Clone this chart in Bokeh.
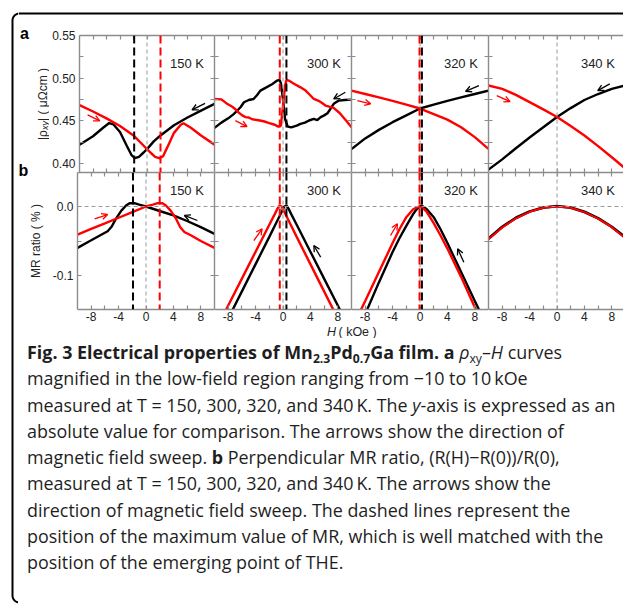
import numpy as np
from bokeh.plotting import figure
from bokeh.models import Range1d, LinearAxis, FixedTicker, Span, Label, Arrow, OpenHead, Div
from bokeh.layouts import row, column
from bokeh.embed import file_html
from bokeh.resources import INLINE

# ------------------------------------------------------------------ data
temperatures = ["150 K", "300 K", "320 K", "340 K"]

# (a) |rho_xy| (μΩcm) vs H (kOe); black: sweep +10 -> -10, red: sweep -10 -> +10
h_150a_black = [-10, -8, -6.5, -5.6, -5, -4, -3, -2.3, -1.8, -1.2, -0.5, 0, 1, 2, 4, 6, 8, 10]
r_150a_black = [0.422, 0.432, 0.442, 0.4475, 0.446, 0.437, 0.421, 0.410, 0.4065, 0.408, 0.413,
                0.417, 0.426, 0.433, 0.445, 0.454, 0.462, 0.470]
h_150a_red = [-10, -8, -6, -4, -2, -1, 0, 0.5, 1.2, 1.9, 2.4, 3, 4, 5, 5.4, 6.5, 8, 10]
r_150a_red = [0.4685, 0.461, 0.453, 0.444, 0.433, 0.425, 0.417, 0.413, 0.408, 0.4062, 0.409,
              0.419, 0.436, 0.4455, 0.4472, 0.442, 0.433, 0.4222]

h_300a_black = [-10, -9, -8, -7.2, -6.2, -5.7, -5, -4.3, -3.8, -3.3, -2.5, -1.6, -0.85, -0.5,
                -0.3, 0.0, 0.3, 0.7, 1.2, 2.0, 2.55, 3.2, 3.8, 4.5, 5.0, 5.5, 5.95, 6.5, 7.0,
                7.4, 8.15, 9.0, 10]
r_300a_black = [0.4418, 0.448, 0.453, 0.458, 0.466, 0.4718, 0.4745, 0.4757, 0.480, 0.4855,
                0.489, 0.493, 0.4972, 0.498, 0.494, 0.475, 0.452, 0.4433, 0.4425, 0.4445,
                0.4465, 0.448, 0.4505, 0.4523, 0.451, 0.4545, 0.4562, 0.459, 0.465, 0.470,
                0.4738, 0.4745, 0.475]
h_300a_red = [-10, -9, -8.15, -7.4, -7.0, -6.5, -5.95, -5.5, -5.0, -4.5, -3.8, -3.2, -2.55,
              -2.0, -1.2, -0.7, -0.3, 0.0, 0.3, 0.5, 0.85, 1.6, 2.55, 3.3, 3.8, 4.5, 5.2,
              5.7, 6.2, 7.4, 8.3, 9.2, 10]
r_300a_red = [0.4757, 0.4752, 0.470, 0.4665, 0.464, 0.460, 0.4565, 0.4545, 0.454, 0.452,
              0.451, 0.4502, 0.449, 0.4475, 0.4455, 0.4433, 0.4445, 0.468, 0.491, 0.498,
              0.4972, 0.4935, 0.4893, 0.4855, 0.4815, 0.4757, 0.4735, 0.471, 0.468, 0.4652,
              0.459, 0.4505, 0.4425]

h_320a = [-10, -8, -6, -4, -2, 0, 2, 4, 6, 8, 10]
r_320a_black = [0.417, 0.4295, 0.4395, 0.4485, 0.4565, 0.4645, 0.469, 0.4735, 0.4775, 0.4815, 0.4855]
r_320a_red = [0.4855, 0.4815, 0.4775, 0.4735, 0.469, 0.4645, 0.458, 0.4515, 0.4425, 0.431, 0.4172]

h_340a = [-10, -8, -6, -4, -2, 0, 2, 4, 6, 8, 10]
r_340a_black = [0.393, 0.405, 0.418, 0.4305, 0.4425, 0.4545, 0.465, 0.4745, 0.4815, 0.4875, 0.4915]
r_340a_red = [0.4915, 0.4875, 0.4805, 0.472, 0.4635, 0.4545, 0.444, 0.433, 0.4205, 0.4075, 0.394]

# (b) MR ratio (%) vs H (kOe)
h_150b_black = [-10, -8, -6, -5.6, -5, -4.4, -3.6, -2.9, -2.4, -1.7, -1, 0, 2, 4, 6, 8, 10]
m_150b_black = [-0.0599, -0.049, -0.038, -0.0358, -0.029, -0.018, -0.006, 0.0014, 0.0048,
                0.0048, 0.0028, 0.0, -0.0065, -0.013, -0.021, -0.030, -0.0396]
h_150b_red = [-10, -8, -6, -4, -2, 0, 1, 1.7, 2.4, 2.9, 3.6, 4.4, 5, 5.6, 6.6, 8, 10]
m_150b_red = [-0.0406, -0.0325, -0.0245, -0.0163, -0.0081, 0.0, 0.0028, 0.0048, 0.0048,
              0.0014, -0.006, -0.018, -0.030, -0.037, -0.042, -0.050, -0.0599]

h_300b_black = [-10, -8, -6, -4, -2, -1, -0.2, 0.2, 0.5, 0.8, 1.2, 2, 4, 6, 8, 10]
m_300b_black = [-0.202, -0.1625, -0.123, -0.0835, -0.044, -0.024, -0.008, 0.0, 0.0015,
                -0.003, -0.011, -0.0265, -0.0655, -0.1045, -0.1435, -0.183]
h_300b_red = [-10, -8, -6, -4, -2, -1.2, -0.8, -0.5, -0.2, 0.2, 1, 2, 4, 6, 8, 10]
m_300b_red = [-0.183, -0.1435, -0.1045, -0.0655, -0.0265, -0.011, -0.003, 0.0015, 0.0,
              -0.008, -0.024, -0.044, -0.0835, -0.123, -0.1625, -0.202]

h_320b_black = [-10, -8, -6, -4, -3, -2, -1, -0.5, 0.2, 1, 2, 3, 4, 6, 8, 10]
m_320b_black = [-0.205, -0.156, -0.110, -0.066, -0.046, -0.028, -0.011, -0.004, 0.0014,
                -0.004, -0.0155, -0.033, -0.053, -0.095, -0.137, -0.178]
h_320b_red = [-10, -8, -6, -4, -3, -2, -1, -0.2, 0.5, 1, 2, 3, 4, 6, 8, 10]
m_320b_red = [-0.178, -0.137, -0.095, -0.053, -0.033, -0.0155, -0.004, 0.0, -0.003, -0.008,
              -0.024, -0.042, -0.061, -0.102, -0.146, -0.19]

h_340b = [-10, -8, -6, -4, -2, 0, 2, 4, 6, 8, 10]
m_340b_black = [-0.0465, -0.0295, -0.0165, -0.0072, -0.0015, 0.0005, -0.0015, -0.0078, -0.017, -0.0295, -0.045]
m_340b_red = [-0.0475, -0.0305, -0.0172, -0.0077, -0.0018, 0.0, -0.0018, -0.0082, -0.0175, -0.030, -0.046]

# field positions (kOe) of the MR maxima (dashed lines)
mr_max_black = [-1.9, 0.5, 0.28, None]
mr_max_red = [2.0, -0.47, -0.07, None]

# sweep-direction arrows: (panel, colour, x_start, y_start, x_end, y_end)
arrows_a = [(0, "red", -8.8, 0.457, -7.0, 0.450), (0, "black", 8.6, 0.4706, 6.67, 0.4629),
            (1, "red", -6.95, 0.4504, -5.25, 0.4433), (1, "black", 9.1, 0.4835, 7.4, 0.4757),
            (2, "red", -9.15, 0.4738, -7.2, 0.470), (2, "black", 8.6, 0.4913, 6.65, 0.4846),
            (3, "red", -8.8, 0.4796, -6.85, 0.4726), (3, "black", 7.7, 0.4933, 5.95, 0.4855)]
arrows_b = [(0, "red", -7.5, -0.0179, -5.6, -0.0116), (0, "black", 7.5, -0.0203, 5.6, -0.013),
            (1, "red", -4.25, -0.0493, -3.05, -0.0323), (1, "black", 5.5, -0.0734, 4.5, -0.0565),
            (2, "red", -4.3, -0.042, -3.3, -0.025), (2, "black", 6.4, -0.0807, 5.5, -0.0613)]

x_ticks = [-8, -6, -4, -2, 0, 2, 4, 6, 8]
x_tick_labels = ["-8", "", "-4", "", "0", "", "4", "", "8"]
rho_ticks = [0.40, 0.425, 0.45, 0.475, 0.50, 0.525, 0.55]
rho_tick_labels = ["0.40", "", "0.45", "", "0.50", "", "0.55"]
mr_ticks = [0.0, -0.05, -0.10]
mr_tick_labels = ["0.0", "", "-0.1"]

caption_lines = [
    "<b>Fig. 3 Electrical properties of Mn<sub>2.3</sub>Pd<sub>0.7</sub>Ga film. a</b> "
    "<i>ρ</i><sub>xy</sub>–<i>H</i> curves",
    "magnified in the low-field region ranging from −10 to 10\u2009kOe",
    "measured at T = 150, 300, 320, and 340\u2009K. The <i>y</i>-axis is expressed as an",
    "absolute value for comparison. The arrows show the direction of",
    "magnetic field sweep. <b>b</b> Perpendicular MR ratio, (R(H)−R(0))/R(0),",
    "measured at T = 150, 300, 320, and 340\u2009K. The arrows show the",
    "direction of magnetic field sweep. The dashed lines represent the",
    "position of the maximum value of MR, which is well matched with the",
    "position of the emerging point of THE.",
]

# ------------------------------------------------------------------ style / layout
AX = "#8c8c8c"
FONT = "Liberation Sans"
COL_W = [165, 137, 137, 135]
COL_BL = [28, 0, 0, 0]
COL_XEND = [10, 10, 10, -10 + 135 / 6.85]
RHO_RANGE = (0.3896, 0.55)
MR_RANGE = (-0.1493, 0.0493)
MAIN_W = 605


def add_axis(p, side, ticks, labels, show):
    ax = LinearAxis(ticker=FixedTicker(ticks=ticks),
                    axis_line_color=AX, axis_line_width=1.4,
                    major_tick_line_color=AX, major_tick_line_width=1.2,
                    major_tick_in=4, major_tick_out=0,
                    minor_tick_line_color=None, minor_tick_in=0, minor_tick_out=0)
    if show:
        ax.major_label_overrides = dict(zip(ticks, labels))
        ax.major_label_text_font = FONT
        ax.major_label_text_font_size = "12px"
        ax.major_label_text_color = "#222222"
        ax.major_label_standoff = 4 if side == "left" else 2
    else:
        ax.major_label_text_font_size = "0px"
        ax.major_label_text_color = None
        ax.major_label_standoff = 0
    p.add_layout(ax, side)


def make_panel(i, top_row):
    if top_row:
        h, bt, bb, yr = 156, 19, 0, RHO_RANGE
        yt, yl = rho_ticks, rho_tick_labels
    else:
        h, bt, bb, yr = 153, 0, 16, MR_RANGE
        yt, yl = mr_ticks, mr_tick_labels
    p = figure(width=COL_W[i], height=h, x_range=Range1d(-10, COL_XEND[i]),
               y_range=Range1d(*yr), toolbar_location=None, output_backend="svg",
               x_axis_location=None, y_axis_location=None,
               min_border_left=COL_BL[i], min_border_right=0,
               min_border_top=bt, min_border_bottom=bb,
               outline_line_color=None, border_fill_color="white")
    p.grid.grid_line_color = None
    add_axis(p, "left", yt, yl, i == 0)
    if i < 3:
        add_axis(p, "right", yt, yl, False)
    add_axis(p, "above", x_ticks, x_tick_labels, False)
    add_axis(p, "below", x_ticks, x_tick_labels, not top_row)
    # dashed guide lines
    p.add_layout(Span(location=0, dimension="height", line_color="#9a9a9a",
                      line_width=1, line_dash="4 3"))
    if not top_row:
        p.add_layout(Span(location=0, dimension="width", line_color="#9a9a9a",
                          line_width=1, line_dash="4 3"))
    if mr_max_black[i] is not None:
        p.add_layout(Span(location=mr_max_black[i], dimension="height", line_color="black",
                          line_width=2, line_dash="8 4"))
    if mr_max_red[i] is not None:
        p.add_layout(Span(location=mr_max_red[i], dimension="height", line_color="red",
                          line_width=2, line_dash="8 4"))
    ty = 0.5171 if top_row else 0.0232
    p.add_layout(Label(x=8.45, y=ty, text=temperatures[i], text_align="right",
                       text_baseline="middle", text_font=FONT, text_font_size="13px",
                       text_color="#222222"))
    for (k, c, x0, y0, x1, y1) in (arrows_a if top_row else arrows_b):
        if k == i:
            p.add_layout(Arrow(end=OpenHead(size=6, line_color=c, line_width=1.3),
                               x_start=x0, y_start=y0, x_end=x1, y_end=y1,
                               line_color=c, line_width=1.3))
    return p


curves_a = [((h_150a_black, r_150a_black), (h_150a_red, r_150a_red)),
            ((h_300a_black, r_300a_black), (h_300a_red, r_300a_red)),
            ((h_320a, r_320a_black), (h_320a, r_320a_red)),
            ((h_340a, r_340a_black), (h_340a, r_340a_red))]
curves_b = [((h_150b_black, m_150b_black), (h_150b_red, m_150b_red)),
            ((h_300b_black, m_300b_black), (h_300b_red, m_300b_red)),
            ((h_320b_black, m_320b_black), (h_320b_red, m_320b_red)),
            ((h_340b, m_340b_black), (h_340b, m_340b_red))]

row_a, row_b = [], []
for i in range(4):
    pa = make_panel(i, True)
    (hb, vb), (hr, vr) = curves_a[i]
    pa.line(hb, vb, line_color="black", line_width=2.4)
    pa.line(hr, vr, line_color="red", line_width=2.4)
    row_a.append(pa)
    pb = make_panel(i, False)
    (hb, vb), (hr, vr) = curves_b[i]
    pb.line(hb, vb, line_color="black", line_width=2.8 if i == 3 else 2.4)
    pb.line(hr, vr, line_color="red", line_width=2.0 if i == 3 else 2.4)
    row_b.append(pb)


def blank(width, height, xr, yr):
    p = figure(width=width, height=height, x_range=Range1d(*xr), y_range=Range1d(*yr),
               toolbar_location=None, output_backend="svg", x_axis_location=None,
               y_axis_location=None, min_border=0, outline_line_color=None,
               border_fill_color="white")
    p.grid.grid_line_color = None
    return p


# rounded left border of the figure box (page pixel coordinates)
left_fig = blank(18, 604, (0, 18), (604, 0))
phi = np.linspace(0, np.pi / 2, 14)
bx = list(19 - 7 * np.cos(phi[::-1])) + list(19 - 7 * np.cos(phi))
by = list(595 + 7 * np.sin(phi[::-1])) + list(20 - 7 * np.sin(phi))
left_fig.line(bx, by, line_color="black", line_width=2)

top_strip = blank(MAIN_W, 16, (18, 623), (16, 0))
top_strip.line([18, 623], [13, 13], line_color="black", line_width=2)

# panel letters and y-axis titles
labels_fig = blank(31, 309, (18, 49), (325, 16))
labels_fig.add_layout(Label(x=24, y=32.5, text="a", text_align="center", text_baseline="middle",
                            text_font=FONT, text_font_size="16px", text_font_style="bold",
                            text_color="black"))
labels_fig.add_layout(Label(x=23, y=170, text="b", text_align="center", text_baseline="middle",
                            text_font=FONT, text_font_size="16px", text_font_style="bold",
                            text_color="black"))
ang = np.pi / 2
labels_fig.add_layout(Label(x=42, y=139.5, text="|ρ", angle=ang, text_align="left",
                            text_baseline="alphabetic", text_font=FONT, text_font_size="12px",
                            text_color="#222222"))
labels_fig.add_layout(Label(x=44.5, y=129.5, text="xy", angle=ang, text_align="left",
                            text_baseline="alphabetic", text_font=FONT, text_font_size="9px",
                            text_font_style="italic", text_color="#222222"))
labels_fig.add_layout(Label(x=42, y=120.5, text="| ( μΩcm )", angle=ang, text_align="left",
                            text_baseline="alphabetic", text_font=FONT, text_font_size="12px",
                            text_color="#222222"))
labels_fig.add_layout(Label(x=35, y=240.5, text="MR ratio ( % )", angle=ang, text_align="center",
                            text_baseline="middle", text_font=FONT, text_font_size="12px",
                            text_color="#222222"))

# x-axis title
xlabel_fig = blank(MAIN_W, 13, (18, 623), (338, 325))
xlabel_fig.add_layout(Label(x=335.5, y=331.3, text="H", text_align="right", text_baseline="middle",
                            text_font=FONT, text_font_size="12.5px", text_font_style="italic",
                            text_color="#222222"))
xlabel_fig.add_layout(Label(x=338, y=331.3, text="( kOe )", text_align="left", text_baseline="middle",
                            text_font=FONT, text_font_size="12.5px", text_color="#222222"))

sub_css = '<sub style="font-size:68%;line-height:0;vertical-align:-0.3em">'
html = "<br>".join(caption_lines).replace("<sub>", sub_css)
caption = Div(text=('<div style="font-family:\'Open Sans\';font-size:17.9px;line-height:26.3px;'
                    'margin-top:-4px;color:#1e1e1e;white-space:nowrap;padding-left:4px;">'
                    + html + '</div>'),
              width=MAIN_W, height=259)

bottom_strip = blank(MAIN_W, 7, (18, 623), (604, 597))
bottom_strip.line([18, 623], [602, 602], line_color="black", line_width=2)

layout = row(left_fig,
             column(top_strip,
                    row(labels_fig, column(row(*row_a), row(*row_b))),
                    xlabel_fig,
                    caption,
                    bottom_strip))

open("out.html", "w").write(file_html(layout, INLINE))
